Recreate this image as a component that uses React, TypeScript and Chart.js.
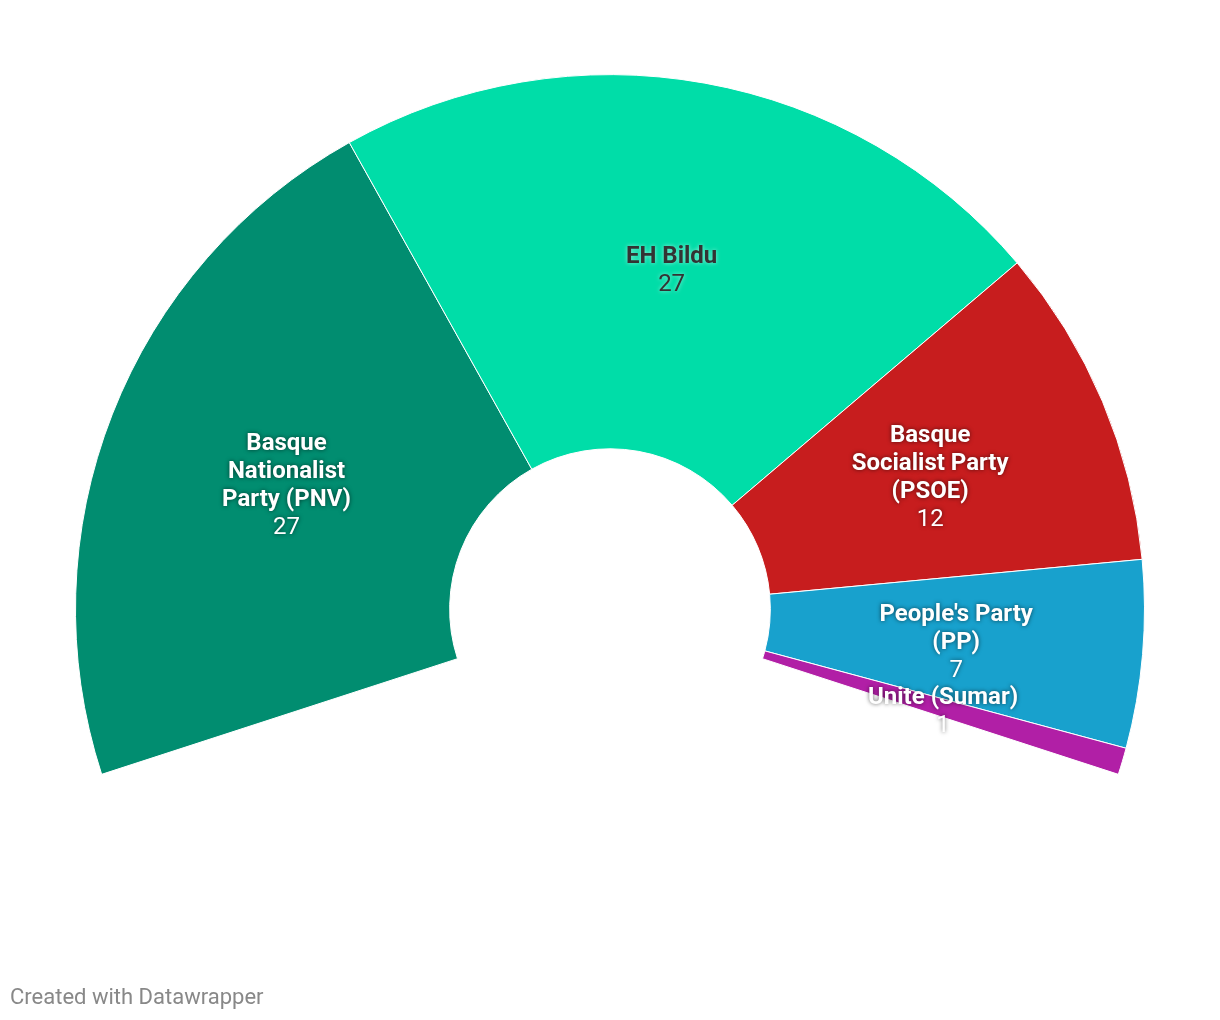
import React, { useEffect, useRef } from "react";
import { Chart, registerables } from "chart.js";

Chart.register(...registerables);

const parties = ["Basque Nationalist Party (PNV)", "EH Bildu", "Basque Socialist Party (PSOE)", "People's Party (PP)", "Unite (Sumar)"];
const labelLines = [
  ["Basque", "Nationalist", "Party (PNV)"],
  ["EH Bildu"],
  ["Basque", "Socialist Party", "(PSOE)"],
  ["People's Party", "(PP)"],
  ["Unite (Sumar)"],
];
const seats = [27, 27, 12, 7, 1];
const colors = ["#018d70", "#00dda8", "#c71d1e", "#18a1cd", "#b11fa6"];
const darkText = [false, true, false, false, false];

const labelPlugin = {
  id: "arcLabels",
  afterDatasetsDraw(chart: any) {
    const ctx = chart.ctx;
    const meta = chart.getDatasetMeta(0);
    const lh = 28;
    meta.data.forEach((arc: any, i: number) => {
      const p = arc.getCenterPoint();
      const lines = [...labelLines[i], String(seats[i])];
      const startY = p.y - ((lines.length - 1) * lh) / 2 + 4;
      ctx.save();
      ctx.textAlign = "center";
      ctx.textBaseline = "middle";
      lines.forEach((t: string, j: number) => {
        const isVal = j === lines.length - 1;
        ctx.font = (isVal ? "400" : "700") + " 24px Roboto";
        if (darkText[i]) {
          ctx.shadowColor = "rgba(255,255,255,0.55)";
          ctx.fillStyle = "#333333";
        } else {
          ctx.shadowColor = "rgba(0,0,0,0.6)";
          ctx.fillStyle = "#ffffff";
        }
        ctx.shadowBlur = 4;
        ctx.fillText(t, p.x, startY + j * lh);
      });
      ctx.restore();
    });
  },
};

export default function App() {
  const ref = useRef<HTMLCanvasElement | null>(null);
  useEffect(() => {
    document.body.style.margin = "0";
    const chart = new Chart(ref.current as HTMLCanvasElement, {
      type: "doughnut",
      data: {
        labels: parties,
        datasets: [
          {
            data: seats,
            backgroundColor: colors,
            borderColor: "#ffffff",
            borderWidth: 1,
            hoverOffset: 0,
          },
        ],
      },
      options: {
        responsive: false,
        animation: false,
        rotation: -108,
        circumference: 216,
        radius: 534.5,
        cutout: "30%",
        layout: { padding: { top: 75, left: 75, right: 75, bottom: 246 } },
        plugins: { legend: { display: false }, tooltip: { enabled: false } },
      } as any,
      plugins: [labelPlugin],
    });
    return () => chart.destroy();
  }, []);
  return (
    <div style={{ position: "relative", width: 1220, height: 1020, background: "#fff" }}>
      <canvas ref={ref} width={1220} height={1020} style={{ position: "absolute", left: 0, top: 0 }} />
      <div
        style={{
          position: "absolute",
          left: 10,
          top: 985,
          fontFamily: "Roboto",
          fontSize: 22,
          color: "#888888",
          lineHeight: "24px",
        }}
      >
        Created with Datawrapper
      </div>
    </div>
  );
}
